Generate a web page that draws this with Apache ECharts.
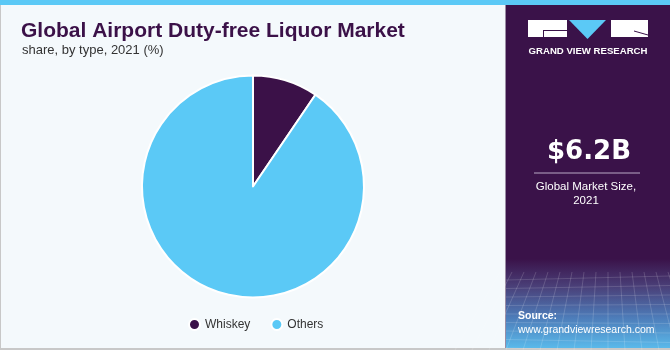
<!DOCTYPE html>
<html>
<head>
<meta charset="utf-8">
<script src="https://cdn.jsdelivr.net/npm/echarts@6/dist/echarts.min.js"></script>
<style>
html,body{margin:0;padding:0;background:#f4f9fc;}
#c{width:670px;height:350px;}
</style>
</head>
<body>
<div id="c"></div>
<script>
var categories = ['Whiskey', 'Others'];
var shares = [9.5, 90.5];
var colors = ['#3b1148', '#5bc9f6'];
var titleText = 'Global Airport Duty-free Liquor Market';
var subtitleText = 'share, by type, 2021 (%)';
var marketSize = '$6.2B';
var marketLabel = ['Global Market Size,', '2021'];

var chart = echarts.init(document.getElementById('c'));

var gridLines = [];
for (var i = 0; i < 16; i++) {
  gridLines.push({type:'line', shape:{x1:500 + i*12, y1:272, x2:455 + i*17, y2:350}, style:{stroke:'rgba(255,255,255,0.16)', lineWidth:1}, silent:true});
}
for (var j = 0; j < 9; j++) {
  gridLines.push({type:'line', shape:{x1:506, y1:280 + j*8.5, x2:670, y2:276 + j*9.5}, style:{stroke:'rgba(255,255,255,0.14)', lineWidth:1}, silent:true});
}

chart.setOption({
  backgroundColor: '#f4f9fc',
  animation: false,
  title: [
    {text: titleText, left: 16, top: 16, textStyle:{fontFamily:'Liberation Sans, Arial', fontWeight:'bold', fontSize:21, color:'#3b1148'}},
    {text: subtitleText, left: 17, top: 39, textStyle:{fontFamily:'Liberation Sans, Arial', fontWeight:'normal', fontSize:13, color:'#333'}}
  ],
  legend: {
    data: categories,
    left: 183, top: 313,
    icon: 'circle', itemWidth: 11, itemHeight: 11, itemGap: 20,
    textStyle: {fontFamily:'Liberation Sans, Arial', fontSize:12, color:'#333'}
  },
  color: colors,
  series: [{
    type: 'pie',
    center: [253, 186.5],
    radius: 111,
    startAngle: 90,
    clockwise: true,
    label: {show:false},
    labelLine: {show:false},
    itemStyle: {borderColor:'#ffffff', borderWidth:2},
    emphasis: {disabled:true},
    data: categories.map(function(c, k){ return {name:c, value:shares[k]}; })
  }],
  graphic: [
    {type:'rect', shape:{x:0,y:0,width:670,height:5}, style:{fill:'#5bc9f6'}, silent:true},
    {type:'rect', shape:{x:0,y:5,width:1,height:345}, style:{fill:'#c8c8c8'}, silent:true},
    {type:'rect', shape:{x:0,y:348,width:670,height:2}, style:{fill:'#c8c8c8'}, silent:true},
    {type:'rect', shape:{x:505,y:5,width:1,height:343}, style:{fill:'#9a8ca4'}, silent:true},
    {type:'rect', shape:{x:506,y:5,width:164,height:343}, style:{fill:new echarts.graphic.LinearGradient(0,0,0,1,[
      {offset:0, color:'#3a1249'},{offset:0.74, color:'#3a1249'},{offset:0.82, color:'#4a3f78'},{offset:0.91, color:'#4d7bb8'},{offset:1, color:'#5ab9ea'}])}, silent:true},
    {type:'group', children: gridLines},
    // logo
    {type:'rect', shape:{x:528,y:20,width:39,height:17}, style:{fill:'#ffffff'}, silent:true},
    {type:'line', shape:{x1:543,y1:30.5,x2:567,y2:30.5}, style:{stroke:'#3a1249', lineWidth:1}, silent:true},
    {type:'line', shape:{x1:543.5,y1:30,x2:543.5,y2:37}, style:{stroke:'#3a1249', lineWidth:1}, silent:true},
    {type:'polygon', shape:{points:[[569,20],[606,20],[587.5,39]]}, style:{fill:'#5bc9f6'}, silent:true},
    {type:'rect', shape:{x:611,y:20,width:37,height:17}, style:{fill:'#ffffff'}, silent:true},
    {type:'line', shape:{x1:634,y1:31,x2:648,y2:35}, style:{stroke:'#3a1249', lineWidth:1}, silent:true},
    {type:'text', style:{text:'GRAND VIEW RESEARCH', x:588, y:51, align:'center', verticalAlign:'middle', fill:'#ffffff', font:'bold 9.6px "Liberation Sans", Arial'}, silent:true},
    // market size
    {type:'text', style:{text:marketSize, x:589, y:152, align:'center', verticalAlign:'middle', fill:'#ffffff', font:'bold 26px "DejaVu Sans", Arial'}, silent:true},
    {type:'line', shape:{x1:534,y1:173,x2:640,y2:173}, style:{stroke:'#b9a9c6', lineWidth:1}, silent:true},
    {type:'text', style:{text:marketLabel[0], x:586, y:187, align:'center', verticalAlign:'middle', fill:'#ffffff', font:'11.5px "Liberation Sans", Arial'}, silent:true},
    {type:'text', style:{text:marketLabel[1], x:586, y:201, align:'center', verticalAlign:'middle', fill:'#ffffff', font:'11.5px "Liberation Sans", Arial'}, silent:true},
    // source
    {type:'text', style:{text:'Source:', x:518, y:316, align:'left', verticalAlign:'middle', fill:'#ffffff', font:'bold 10.5px "Liberation Sans", Arial'}, silent:true},
    {type:'text', style:{text:'www.grandviewresearch.com', x:518, y:330, align:'left', verticalAlign:'middle', fill:'#ffffff', font:'10.5px "Liberation Sans", Arial'}, silent:true}
  ]
});
</script>
</body>
</html>
